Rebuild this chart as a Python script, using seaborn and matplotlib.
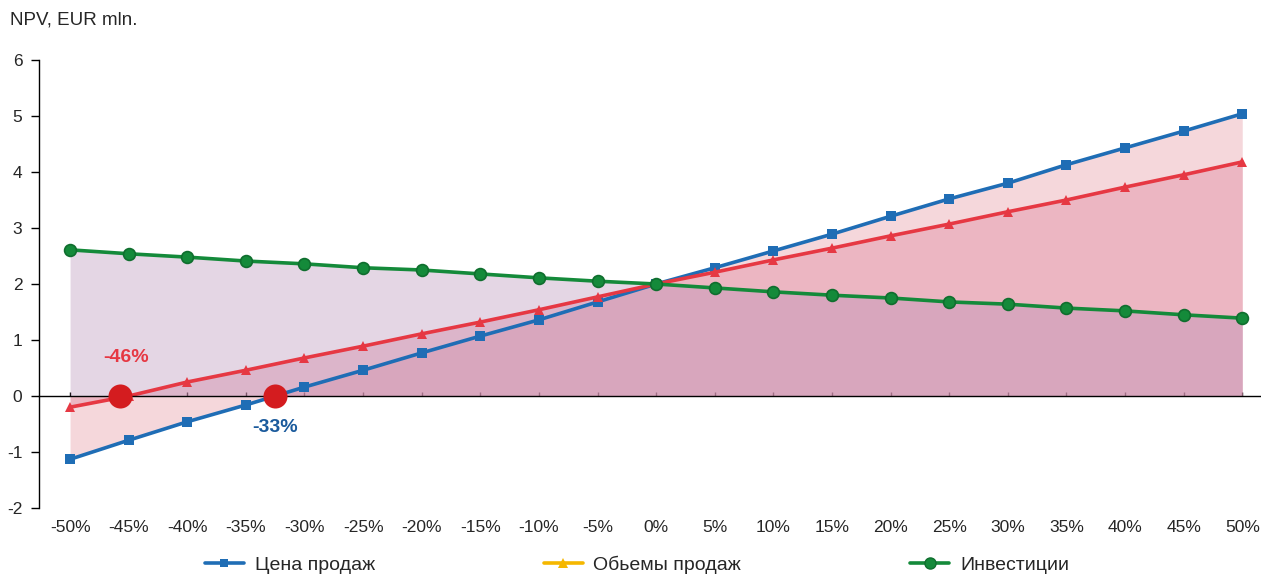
import seaborn as sns
import pandas as pd
import matplotlib.pyplot as plt
from matplotlib.lines import Line2D

# data
change = [-50, -45, -40, -35, -30, -25, -20, -15, -10, -5, 0, 5, 10, 15, 20, 25, 30, 35, 40, 45, 50]
price = [-1.13, -0.79, -0.46, -0.16, 0.16, 0.46, 0.77, 1.07, 1.36, 1.68, 2.0,
         2.29, 2.59, 2.89, 3.21, 3.52, 3.80, 4.13, 4.43, 4.73, 5.04]
volume = [-0.2, 0.0, 0.25, 0.46, 0.68, 0.89, 1.11, 1.32, 1.54, 1.77, 2.0,
          2.21, 2.43, 2.64, 2.86, 3.07, 3.29, 3.5, 3.73, 3.95, 4.18]
invest = [2.61, 2.54, 2.48, 2.41, 2.36, 2.29, 2.25, 2.18, 2.11, 2.05, 2.0,
          1.93, 1.86, 1.80, 1.75, 1.68, 1.64, 1.57, 1.52, 1.45, 1.39]
breakeven = [-45.7, -32.5]
breakeven_labels = ["-46%", "-33%"]
names = ["Цена продаж", "Обьемы продаж", "Инвестиции"]
xlabels = [f"{v}%" for v in change]

df = pd.DataFrame({"x": change, "price": price, "volume": volume, "invest": invest})

sns.set_style("white")
plt.rcParams['font.family'] = ['Liberation Sans', 'DejaVu Sans']
plt.rcParams['axes.unicode_minus'] = False

blue = "#1f6db5"
red = "#e63843"
green = "#148a3a"

fig = plt.figure(figsize=(12.61, 5.74), dpi=100)
ax = fig.add_axes([39 / 1261, 1 - 508 / 574, 1 - 39 / 1261, (508 - 60) / 574])

# area fills
ax.fill_between(df["x"], 0, df["price"], color="#e8a0ab", alpha=0.42, lw=0)
ax.fill_between(df["x"], 0, df["volume"], color="#e08aa0", alpha=0.42, lw=0)
ax.fill_between(df["x"], 0, df["invest"], color="#b48ab4", alpha=0.35, lw=0)

sns.lineplot(data=df, x="x", y="price", color=blue, lw=2.6, marker="s", markersize=7,
             markeredgewidth=0, ax=ax, legend=False, zorder=3)
sns.lineplot(data=df, x="x", y="volume", color=red, lw=2.6, marker="^", markersize=7.5,
             markeredgewidth=0, ax=ax, legend=False, zorder=3)
sns.lineplot(data=df, x="x", y="invest", color=green, lw=2.6, marker="o", markersize=8.5,
             markerfacecolor=green, markeredgecolor="#0f6e2e", markeredgewidth=1.2,
             ax=ax, legend=False, zorder=3)

# break-even points
ax.scatter(breakeven, [0, 0], s=300, color="#d41c1f", zorder=5, lw=0)
bold = dict(fontsize=14, fontweight="bold", ha="center", va="center")
ax.text(breakeven[0] + 0.5, 0.68, breakeven_labels[0], color=red, **bold)
ax.text(breakeven[1], -0.56, breakeven_labels[1], color="#1a5a9c", **bold)

ax.set_xlim(-52.65, 51.6)
ax.set_ylim(-2, 6)
ax.set_xticks(change)
ax.set_xticklabels(xlabels)
ax.set_yticks(range(-2, 7))
ax.set_xlabel("")
ax.set_ylabel("")

for side in ["top", "right"]:
    ax.spines[side].set_visible(False)
ax.spines["left"].set_color("black")
ax.spines["left"].set_linewidth(1)
ax.spines["bottom"].set_position(("data", 0))
ax.spines["bottom"].set_color("black")
ax.spines["bottom"].set_linewidth(1)
ax.spines["bottom"].set_zorder(4)

ax.tick_params(axis="y", direction="out", length=6, width=1, color="black",
               labelsize=12.5, pad=6, left=True)
ax.tick_params(axis="x", direction="in", length=3, width=1, color="black",
               labelsize=12.5, pad=89, bottom=True)

fig.text(10 / 1261, 1 - 20 / 574, "NPV, EUR mln.", fontsize=13.5, ha="left", va="center")

handles = [
    Line2D([0], [0], color=blue, lw=2.6, marker="s", markersize=6, markeredgewidth=0),
    Line2D([0], [0], color="#f5b700", lw=2.6, marker="^", markersize=6.5, markeredgewidth=0),
    Line2D([0], [0], color=green, lw=2.6, marker="o", markersize=8, markeredgecolor="#0f6e2e"),
]
fig.legend(handles, names, loc="center", bbox_to_anchor=(637 / 1261, 1 - 565 / 574), ncol=3,
           frameon=False, fontsize=14, handlelength=2.0, handletextpad=0.55,
           columnspacing=8.7)

fig.savefig("out.png", dpi=100)
